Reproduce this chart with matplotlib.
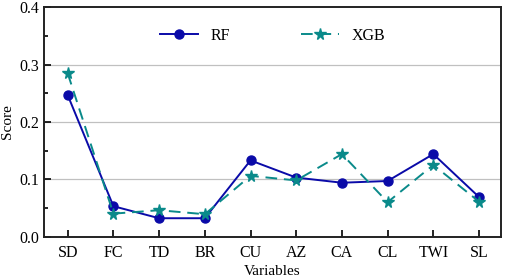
import numpy as np
import matplotlib
matplotlib.use("Agg")
import matplotlib.pyplot as plt

# ── data ─────────────────────────────────────────────────────────────────────
variables = ["SD", "FC", "TD", "BR", "CU", "AZ", "CA", "CL", "TWI", "SL"]
rf_scores = [0.247, 0.053, 0.032, 0.032, 0.133, 0.103, 0.094, 0.097, 0.144, 0.069]
xgb_scores = [0.285, 0.040, 0.046, 0.039, 0.106, 0.098, 0.144, 0.060, 0.125, 0.061]
y_ticks = [0.0, 0.1, 0.2, 0.3, 0.4]

plt.rcParams["font.family"] = ["Liberation Serif", "DejaVu Serif"]

fig = plt.figure(figsize=(5.05, 2.77), dpi=100)
ax = fig.add_axes([0.087, 0.146, 0.905, 0.827])

x = np.arange(len(variables))
ax.plot(x, rf_scores, color="#0a0aa8", lw=1.4, marker="o", ms=6.5, label="RF", zorder=3)
ax.plot(x, xgb_scores, color="#0a8a8a", lw=1.4, ls=(0, (6, 3.5)), marker="*", ms=8.5,
        label="XGB", zorder=3)

ax.set_xlim(-0.52, 9.48)
ax.set_ylim(0, 0.4)
ax.set_xticks(x)
ax.set_xticklabels(variables)
ax.set_yticks(y_ticks)
ax.set_yticklabels([f"{v:.1f}" for v in y_ticks])
ax.set_yticks([0.05, 0.15, 0.25, 0.35], minor=True)
ax.tick_params(axis="both", which="both", direction="in", labelsize=11.5, width=1.2)
ax.tick_params(axis="both", which="major", length=5)
ax.tick_params(axis="y", which="minor", length=3)
ax.tick_params(axis="x", pad=6)

for y in [0.1, 0.2, 0.3]:
    ax.axhline(y, color="#c0c0c0", lw=0.9, zorder=1)

for s in ax.spines.values():
    s.set_linewidth(1.4)
    s.set_color("#222222")

ax.set_xlabel("Variables", fontsize=11, labelpad=3)
ax.set_ylabel("Score", fontsize=11, labelpad=4)

ax.legend(loc="upper center", bbox_to_anchor=(0.50, 0.975), ncol=2, frameon=False,
          fontsize=11.5, columnspacing=4.4, handlelength=2.4, handletextpad=0.8)

fig.savefig("out.png", dpi=100)
